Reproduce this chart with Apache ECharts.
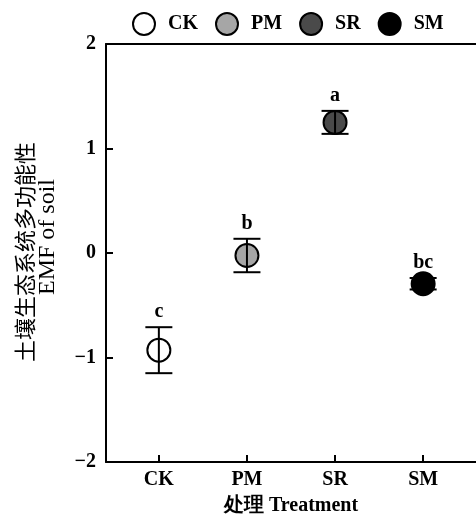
<!DOCTYPE html>
<html>
<head>
<meta charset="utf-8">
<script src="https://cdn.jsdelivr.net/npm/echarts@6/dist/echarts.min.js"></script>
<style>html,body{margin:0;padding:0;background:#fff;}#c{width:476px;height:517px;}</style>
</head>
<body>
<div id="c"></div>
<script>
const categories = ['CK', 'PM', 'SR', 'SM'];
const means = [-0.93, -0.024, 1.25, -0.294];
const errors = [0.22, 0.16, 0.11, 0.055];
const sigLetters = ['c', 'b', 'a', 'bc'];
const fillColors = ['#ffffff', '#a6a6a6', '#4a4a4a', '#000000'];
const yTicks = [-2, -1, 0, 1, 2];

const serif = '"Liberation Serif","Times New Roman",serif';
const chart = echarts.init(document.getElementById('c'));

const scatterSeries = categories.map((name, i) => ({
  name: name,
  type: 'scatter',
  symbol: 'circle',
  symbolSize: 23,
  z: 2,
  itemStyle: { color: fillColors[i], borderColor: '#000', borderWidth: 2, opacity: 1 },
  emphasis: { disabled: true },
  data: [[i + 1, means[i]]]
}));

const errData = categories.map((c, i) => [i + 1, means[i] - errors[i], means[i] + errors[i], i]);

const errSeries = {
  type: 'custom',
  z: 5,
  silent: true,
  data: errData,
  encode: { x: 0, y: [1, 2] },
  renderItem: function (params, api) {
    const x = api.value(0);
    const lo = api.coord([x, api.value(1)]);
    const hi = api.coord([x, api.value(2)]);
    const idx = api.value(3);
    const hw = 13.5;
    const st = { stroke: '#000', lineWidth: 2 };
    return {
      type: 'group',
      children: [
        { type: 'line', shape: { x1: lo[0], y1: lo[1], x2: hi[0], y2: hi[1] }, style: st },
        { type: 'line', shape: { x1: lo[0] - hw, y1: lo[1], x2: lo[0] + hw, y2: lo[1] }, style: st },
        { type: 'line', shape: { x1: hi[0] - hw, y1: hi[1], x2: hi[0] + hw, y2: hi[1] }, style: st },
        { type: 'text', x: hi[0], y: hi[1] - 5, style: { text: sigLetters[idx], fill: '#000', font: 'bold 20px ' + serif, textAlign: 'center', textVerticalAlign: 'bottom' } }
      ]
    };
  }
};

chart.setOption({
  animation: false,
  backgroundColor: '#fff',
  legend: {
    left: 127,
    top: 7,
    itemWidth: 22,
    itemHeight: 22,
    itemGap: 17,
    icon: 'circle',
    data: categories,
    textStyle: { fontFamily: serif, fontWeight: 'bold', fontSize: 20, color: '#000', padding: [0, 0, 0, 8] }
  },
  grid: { left: 106, right: 0, top: 44, bottom: 55, containLabel: false, outerBoundsMode: 'none' },
  xAxis: [{
    type: 'value',
    min: 0.4,
    max: 4.6,
    splitLine: { show: false },
    axisLine: { show: true, onZero: false, lineStyle: { color: '#000', width: 2 } },
    axisTick: { show: true, inside: true, length: 7, customValues: [1, 2, 3, 4], lineStyle: { color: '#000', width: 2 } },
    axisLabel: {
      customValues: [1, 2, 3, 4],
      formatter: v => categories[Math.round(v) - 1] || '',
      fontFamily: serif, fontWeight: 'bold', fontSize: 20, color: '#000', margin: 8
    },
    name: '处理 Treatment',
    nameLocation: 'middle',
    nameGap: 34,
    nameTextStyle: { fontFamily: serif, fontWeight: 'bold', fontSize: 20, color: '#000' }
  }, {
    type: 'value',
    position: 'top',
    min: 0.4,
    max: 4.6,
    splitLine: { show: false },
    axisLine: { show: true, onZero: false, lineStyle: { color: '#000', width: 2 } },
    axisTick: { show: false },
    axisLabel: { show: false }
  }],
  yAxis: {
    type: 'value',
    min: yTicks[0],
    max: yTicks[yTicks.length - 1],
    interval: 1,
    splitLine: { show: false },
    axisLine: { show: true, onZero: false, lineStyle: { color: '#000', width: 2 } },
    axisTick: { show: true, inside: true, length: 7, lineStyle: { color: '#000', width: 2 } },
    axisLabel: {
      formatter: v => String(v).replace('-', '\u2212'),
      fontFamily: serif, fontWeight: 'bold', fontSize: 20, color: '#000', margin: 10
    }
  },
  graphic: [
    { type: 'text', x: 25, y: 252, rotation: Math.PI / 2, style: { text: '土壤生态系统多功能性', font: '22px "Noto Sans CJK SC"', fill: '#000', textAlign: 'center', textVerticalAlign: 'middle' } },
    { type: 'text', x: 48, y: 237, rotation: Math.PI / 2, style: { text: 'EMF of soil', font: '24px ' + serif, fill: '#000', textAlign: 'center', textVerticalAlign: 'middle' } }
  ],
  series: scatterSeries.concat([errSeries])
});
</script>
</body>
</html>
